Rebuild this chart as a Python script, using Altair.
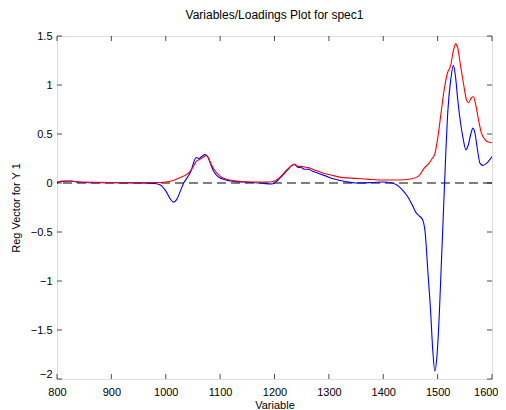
import altair as alt
import pandas as pd

# ---- data ----
blue_x = [800, 810, 825, 840, 860, 900, 950, 980, 990, 1000, 1008, 1014, 1020, 1027, 1033, 1040, 1047,
          1052, 1056, 1061, 1066, 1072, 1077, 1082, 1088, 1095, 1105, 1120, 1140, 1160, 1180, 1195,
          1200, 1210, 1222, 1232, 1237, 1243, 1250, 1255, 1262, 1270, 1280, 1295, 1310, 1330, 1350,
          1380, 1400, 1415, 1425, 1435, 1445, 1453, 1460, 1467, 1472, 1477, 1482, 1487, 1491, 1495,
          1499, 1503, 1507, 1511, 1515, 1519, 1524, 1529, 1533, 1537, 1542, 1547, 1552, 1556, 1561,
          1565, 1569, 1573, 1578, 1583, 1590, 1600]
blue_y = [0.005, 0.015, 0.02, 0.008, 0.003, 0.002, 0.0, -0.005, -0.02, -0.08, -0.16, -0.195, -0.17,
          -0.08, 0.0, 0.06, 0.13, 0.22, 0.26, 0.25, 0.27, 0.29, 0.27, 0.2, 0.12, 0.07, 0.04, 0.02,
          0.01, 0.005, -0.005, -0.01, 0.0, 0.05, 0.12, 0.18, 0.19, 0.16, 0.155, 0.14, 0.14, 0.12,
          0.1, 0.07, 0.04, 0.015, 0.0, 0.005, 0.01, 0.0, -0.02, -0.07, -0.14, -0.22, -0.3, -0.34,
          -0.37, -0.5, -0.9, -1.3, -1.7, -1.92, -1.75, -1.35, -0.8, -0.25, 0.3, 0.75, 1.05, 1.2,
          1.08, 0.85, 0.62, 0.45, 0.34, 0.38, 0.5, 0.56, 0.5, 0.35, 0.2, 0.18, 0.2, 0.27]

red_x = [800, 810, 825, 840, 900, 950, 990, 1000, 1010, 1020, 1032, 1042, 1050, 1056, 1062, 1068,
         1074, 1078, 1083, 1090, 1100, 1110, 1130, 1160, 1190, 1200, 1210, 1222, 1232, 1237, 1243,
         1250, 1258, 1266, 1275, 1290, 1305, 1320, 1340, 1370, 1400, 1430, 1450, 1465, 1475, 1484,
         1490, 1495, 1500, 1506, 1512, 1518, 1524, 1529, 1533, 1537, 1542, 1548, 1553, 1557, 1562,
         1566, 1570, 1575, 1580, 1586, 1592, 1600]
red_y = [0.01, 0.02, 0.02, 0.01, 0.005, 0.005, 0.005, 0.01, 0.02, 0.04, 0.07, 0.1, 0.16, 0.22, 0.24,
         0.26, 0.28, 0.26, 0.2, 0.13, 0.07, 0.04, 0.02, 0.01, 0.01, 0.02, 0.06, 0.13, 0.18, 0.19,
         0.17, 0.17, 0.16, 0.15, 0.13, 0.1, 0.08, 0.06, 0.05, 0.04, 0.03, 0.03, 0.04, 0.07, 0.15,
         0.2, 0.25, 0.3, 0.45, 0.7, 0.95, 1.12, 1.2, 1.35, 1.42, 1.38, 1.2, 1.0, 0.85, 0.82, 0.87,
         0.88, 0.8, 0.65, 0.52, 0.45, 0.42, 0.41]

x_ticks = [800, 900, 1000, 1100, 1200, 1300, 1400, 1500, 1600]
y_ticks = [-2, -1.5, -1, -0.5, 0, 0.5, 1, 1.5]
zero_level = [0]

W, H = 435, 343
FONT = "Liberation Sans"

blue = pd.DataFrame({"x": blue_x, "y": blue_y})
red = pd.DataFrame({"x": red_x, "y": red_y})

xscale = alt.Scale(domain=[800, 1600], nice=False, zero=False)
yscale = alt.Scale(domain=[-2, 1.5], nice=False, zero=False)

xaxis = alt.Axis(values=x_ticks, ticks=False, domain=False, grid=False, labelPadding=7,
                 labelFlush=False, format="d",
                 labelAlign=alt.expr("datum.value == 1600 ? 'right' : 'center'"),
                 labelOffset=alt.expr("datum.value == 1600 ? 6 : 0"),
                 labelFontSize=11, labelColor="black", title="Variable", titlePadding=2,
                 titleFontSize=11, titleFontWeight="normal", titleColor="black")
yaxis = alt.Axis(values=y_ticks, ticks=False, domain=False, grid=False, labelPadding=5,
                 labelFlush=False, format="~g",
                 labelFontSize=11, labelColor="black", title="Reg Vector for Y 1",
                 titlePadding=9, titleFontSize=11, titleFontWeight="normal", titleColor="black",
                 labelBaseline=alt.expr("datum.value == -2 ? 'bottom' : 'middle'"))

X = lambda f: alt.X(f"{f}:Q", scale=xscale, axis=xaxis)
Y = lambda f: alt.Y(f"{f}:Q", scale=yscale, axis=yaxis)

zero = alt.Chart(pd.DataFrame({"z": zero_level})).mark_rule(
    color="#555555", strokeDash=[9, 5], strokeWidth=1.3).encode(y=Y("z"))

blue_line = alt.Chart(blue).mark_line(color="#0000ff", strokeWidth=1.1, interpolate="monotone",
                                      clip=True).encode(x=X("x"), y=Y("y"))
red_line = alt.Chart(red).mark_line(color="#ff0000", strokeWidth=1.1, interpolate="monotone",
                                    clip=True).encode(x=X("x"), y=Y("y"))

xt = pd.DataFrame({"t": x_ticks})
yt = pd.DataFrame({"t": y_ticks})
tick_top = alt.Chart(xt).mark_tick(size=5, thickness=1, color="black").encode(
    x=X("t"), y=alt.value(2.5))
tick_bot = alt.Chart(xt).mark_tick(size=5, thickness=1, color="black").encode(
    x=X("t"), y=alt.value(H - 2.5))
tick_left = alt.Chart(yt).mark_tick(size=5, thickness=1, color="black").encode(
    y=Y("t"), x=alt.value(2.5))
tick_right = alt.Chart(yt).mark_tick(size=5, thickness=1, color="black").encode(
    y=Y("t"), x=alt.value(W - 2.5))

chart = alt.layer(zero, blue_line, red_line, tick_top, tick_bot, tick_left, tick_right).properties(
    width=W, height=H,
    title=alt.TitleParams("Variables/Loadings Plot for spec1", fontSize=12, fontWeight="normal",
                          font=FONT, color="black", offset=8, anchor="middle"),
    autosize=alt.AutoSizeParams(type="none"),
    padding={"left": 49, "top": 28, "right": 6, "bottom": 31},
).configure_view(stroke="black", strokeWidth=1.2).configure(font=FONT).configure_axis(
    labelFont=FONT, titleFont=FONT)

chart.save("out.html", embed_options={"renderer": "svg", "actions": False})
